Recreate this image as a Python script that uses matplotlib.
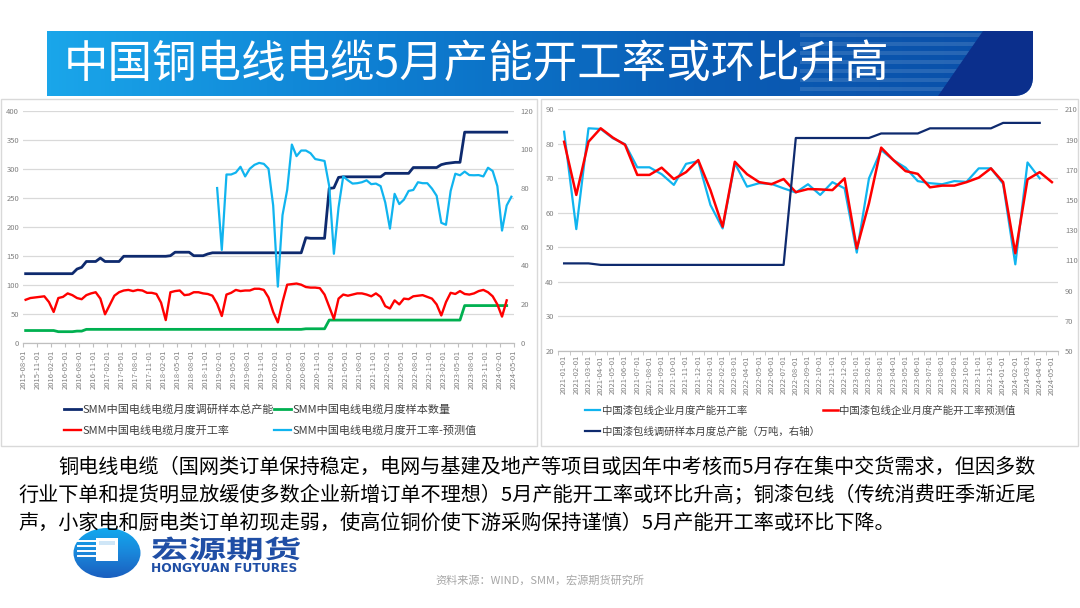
import numpy as np
import pandas as pd
import matplotlib
matplotlib.use('Agg')
import matplotlib.pyplot as plt
from matplotlib.patches import Rectangle, Polygon, Ellipse, PathPatch
from matplotlib.path import Path
from matplotlib.colors import LinearSegmentedColormap
from matplotlib.textpath import TextPath
from matplotlib.font_manager import FontProperties
from matplotlib.transforms import Affine2D
from matplotlib.lines import Line2D

plt.rcParams['font.family'] = ['Noto Sans CJK SC', 'DejaVu Sans']

# ---- 电线电缆 (monthly, 2015-08 onwards) ----
cable_ticks = pd.date_range('2015-08-01', '2024-05-01', freq='3MS').strftime('%Y-%m-%d')
cable_capacity = [119, 119, 119, 119, 119, 119, 119, 119, 119, 119,
                  119, 127, 130, 140, 140, 140, 146, 140, 140, 140,
                  140, 149, 149, 149, 149, 149, 149, 149, 149, 149,
                  149, 150, 156, 156, 156, 156, 150, 150, 150, 153,
                  155, 155, 155, 155, 155, 155, 155, 155, 155, 155,
                  155, 155, 155, 155, 155, 155, 155, 155, 155, 155,
                  181, 180, 180, 180, 180, 266, 267, 285, 286, 286,
                  286, 286, 286, 286, 286, 286, 286, 292, 292, 292,
                  292, 292, 292, 302, 302, 302, 302, 302, 302, 307,
                  309, 310, 311, 311, 363, 363, 363, 363, 363, 363,
                  363, 363, 363, 363]
cable_samples = [21, 21, 21, 21, 21, 21, 21, 19, 19, 19,
                 19, 20, 20, 23, 23, 23, 23, 23, 23, 23,
                 23, 23, 23, 23, 23, 23, 23, 23, 23, 23,
                 23, 23, 23, 23, 23, 23, 23, 23, 23, 23,
                 23, 23, 23, 23, 23, 23, 23, 23, 23, 23,
                 23, 23, 23, 23, 23, 23, 23, 23, 23, 23,
                 24, 24, 24, 24, 24, 39, 39, 39, 39, 39,
                 39, 39, 39, 39, 39, 39, 39, 39, 39, 39,
                 39, 39, 39, 39, 39, 39, 39, 39, 39, 39,
                 39, 39, 39, 39, 64, 64, 64, 64, 64, 64,
                 64, 64, 64, 64]
cable_rate = [74, 77, 78, 79, 80, 70, 53, 77, 79, 85,
              82, 77, 75, 82, 85, 87, 76, 49, 65, 81,
              87, 90, 91, 89, 91, 90, 86, 86, 84, 69,
              39, 87, 89, 90, 82, 83, 87, 87, 85, 84,
              81, 67, 46, 83, 86, 91, 89, 90, 90, 93,
              93, 91, 78, 53, 35, 70, 100, 101, 102, 100,
              96, 95, 95, 94, 83, 62, 41, 76, 83, 81,
              83, 85, 85, 83, 80, 85, 79, 63, 59, 73,
              66, 76, 75, 80, 81, 82, 79, 76, 66, 47,
              70, 86, 84, 89, 84, 83, 85, 89, 91, 87,
              80, 66, 45, 73]
cable_rate_fcst = [np.nan] * 41 + [
              80, 48, 87, 87, 88, 91, 86, 90, 92, 93,
              92.5, 90, 71, 29, 66, 79, 102.5, 96.5, 99.4, 99.4,
              98, 95, 94.5, 94, 81, 46, 70, 86, 84, 82.3,
              82.5, 83, 84, 82, 82.3, 81, 72.5, 59, 77, 71.7,
              74, 78.5, 79, 83, 82.5, 82.5, 79.7, 76, 62, 61,
              78.5, 87.4, 86.6, 88.5, 86.7, 86.6, 86.7, 86, 90.5, 88.8,
              81, 58, 71, 75.5]

# ---- 漆包线 (monthly, 2021-01 onwards) ----
enamel_months = pd.date_range('2021-01-01', '2024-05-01', freq='MS').strftime('%Y-%m-%d')
enamel_rate = [83.5, 55.3, 84.5, 84.3, 81.6, 79.9, 73.2, 73.2, 71.2, 68.1,
               74.2, 75, 62.3, 55.5, 74.4, 67.6, 68.6, 68.4, 67.1, 65.9,
               68.3, 65.2, 68.9, 67.1, 48.5, 70, 78.2, 75.3, 73.1, 69.2,
               68.6, 68.3, 69.2, 69, 72.9, 72.9, 68.4, 45.1, 74.6, 70]
enamel_rate_fcst = [80.6, 65.2, 80.6, 84.5, 81.8, 79.7, 71, 71, 73.1, 69.8,
                    71.8, 75.3, 66.6, 56, 74.8, 71.2, 68.9, 68.3, 69.8, 66,
                    66.9, 66.8, 66.6, 70, 49.7, 62.8, 78.9, 75.3, 72.1, 71.3,
                    67.4, 67.9, 67.9, 68.9, 70.2, 72.9, 68.9, 48.3, 69.7, 71.8,
                    68.9]
enamel_capacity = [108, 108, 108, 107, 107, 107, 107, 107, 107, 107,
                   107, 107, 107, 107, 107, 107, 107, 107, 107, 191,
                   191, 191, 191, 191, 191, 191, 194, 194, 194, 194,
                   197.4, 197.4, 197.4, 197.4, 197.4, 197.4, 201, 201, 201, 201]

title = '中国铜电线电缆5月产能开工率或环比升高'
body = ['铜电线电缆（国网类订单保持稳定，电网与基建及地产等项目或因年中考核而5月存在集中交货需求，但因多数',
        '行业下单和提货明显放缓使多数企业新增订单不理想）5月产能开工率或环比升高；铜漆包线（传统消费旺季渐近尾',
        '声，小家电和厨电类订单初现走弱，使高位铜价使下游采购保持谨慎）5月产能开工率或环比下降。']
source = '资料来源：WIND，SMM，宏源期货研究所'

NAVY = '#0e2a6e'
RED = '#ff0000'
SKY = '#10b4ef'
GREEN = '#00b050'
GRID = '#d9d9d9'
TICK = '#808080'

W, H = 1080, 608
fig = plt.figure(figsize=(W / 100, H / 100), dpi=100)

# page layer in pixel units
bg = fig.add_axes([0, 0, 1, 1])
bg.set_xlim(0, W)
bg.set_ylim(H, 0)
bg.axis('off')

# title banner with rounded lower-right corner
bx0, bx1, by0, by1, r = 47, 1033, 31, 96, 20
banner_path = Path([(bx0, by0), (bx1, by0), (bx1, by1 - r), (bx1, by1), (bx1 - r, by1), (bx0, by1), (bx0, by0)],
                   [Path.MOVETO, Path.LINETO, Path.LINETO, Path.CURVE3, Path.CURVE3, Path.LINETO, Path.CLOSEPOLY])
banner = PathPatch(banner_path, fc='none', ec='none')
bg.add_patch(banner)
banner_cmap = LinearSegmentedColormap.from_list('banner', ['#1aa6ea', '#0e7fd2', '#0a5db5', '#0a4ea8'])
im = bg.imshow(np.linspace(0, 1, 256).reshape(1, -1), cmap=banner_cmap, extent=(bx0, bx1, by1, by0),
               aspect='auto', zorder=1)
im.set_clip_path(banner)
for y in range(33, 96, 9):
    s = bg.add_patch(Rectangle((800, y), 200, 4, fc='white', alpha=0.12, ec='none', zorder=2))
    s.set_clip_path(banner)
dark = bg.add_patch(Polygon([(983, by0), (1040, by0), (1040, by1), (938, by1)], fc='#0b2f8c', ec='none', zorder=3))
dark.set_clip_path(banner)
bg.text(64, 64, title, color='white', fontsize=32, va='center', ha='left', zorder=4)

# chart panels
bg.add_patch(Rectangle((1, 99), 536, 347, fill=False, ec='#d9d9d9', lw=1))
bg.add_patch(Rectangle((541, 99), 537, 347, fill=False, ec='#d9d9d9', lw=1))

# body text
bg.text(58, 467, body[0], fontsize=14.5, va='center', ha='left')
bg.text(18, 495, body[1], fontsize=14.5, va='center', ha='left')
bg.text(18, 523, body[2], fontsize=14.5, va='center', ha='left')

# logo
logo = Ellipse((107, 553), 67, 50, fc='none', ec='none')
bg.add_patch(logo)
logo_cmap = LinearSegmentedColormap.from_list('logo', ['#12a8ee', '#1a86da', '#1a5fbf'])
li = bg.imshow(np.linspace(0, 1, 64).reshape(-1, 1), cmap=logo_cmap, extent=(73, 141, 578, 528),
               aspect='auto', zorder=2)
li.set_clip_path(logo)
bg.add_patch(Rectangle((96, 538), 22, 23, fc='white', ec='none', zorder=3))
bg.add_patch(Rectangle((99, 541), 16, 4, fc='#cfe6f7', ec='none', zorder=3))
for y in [541, 546, 551, 556]:
    bg.add_line(Line2D([78, 96], [y, y], color='white', lw=1.4, zorder=3))
tp = TextPath((0, 0), '宏源期货', size=25, prop=FontProperties(family='Noto Sans CJK SC', weight='bold'))
ext = tp.get_extents()
sx = 148 / ext.width
tp = Affine2D().translate(-ext.x0, 0).scale(sx, -1).translate(152, 558).transform_path(tp)
bg.add_patch(PathPatch(tp, fc='#1f4ea5', ec='none', zorder=3))
bg.text(151, 568, 'HONGYUAN FUTURES', fontsize=8.8, fontweight='bold', family='DejaVu Sans',
        color='#1f4ea5', va='center', ha='left')
bg.text(540, 580, source, fontsize=8, color='#a6a6a6', va='center', ha='center')


def style_axes(ax, ax2):
    for a in (ax, ax2):
        for side in ['top', 'left', 'right']:
            a.spines[side].set_visible(False)
        a.spines['bottom'].set_color('#bfbfbf')
    ax.tick_params(axis='y', length=0, labelsize=5.5, labelcolor=TICK, pad=3)
    ax2.tick_params(axis='y', length=0, labelsize=5.5, labelcolor=TICK, pad=5)
    ax.grid(axis='y', color=GRID, lw=0.9)
    ax.set_axisbelow(True)


# ---- left chart ----
axL = fig.add_axes([23.3 / W, 1 - 342.7 / H, 490.4 / W, 232 / H])
axL2 = axL.twinx()
x_cable = np.arange(len(cable_rate_fcst)) + 0.5
n = len(cable_capacity)
l1, = axL.plot(x_cable[:n], cable_capacity, color=NAVY, lw=2)
l2, = axL.plot(x_cable[:n], cable_samples, color=GREEN, lw=2)
l3, = axL.plot(x_cable[:n], cable_rate, color=RED, lw=1.7)
l4, = axL2.plot(x_cable, cable_rate_fcst, color=SKY, lw=1.6)
axL.set_xlim(0, 105)
axL.set_ylim(0, 400)
axL.set_yticks(range(0, 401, 50))
axL2.set_ylim(0, 120)
axL2.set_yticks(range(0, 121, 20))
axL.set_xticks(np.arange(0, 106, 3))
axL.set_xticklabels(cable_ticks, rotation=90, fontsize=5.5, color=TICK)
axL.tick_params(axis='x', length=3, color='#bfbfbf', pad=2)
style_axes(axL, axL2)
axL.legend([l1, l3, l2, l4],
           ['SMM中国电线电缆月度调研样本总产能', 'SMM中国电线电缆月度开工率',
            'SMM中国电线电缆月度样本数量', 'SMM中国电线电缆月度开工率-预测值'],
           loc='upper left', bbox_to_anchor=(64 / W, 1 - 404 / H), bbox_transform=fig.transFigure,
           ncol=2, frameon=False, fontsize=8, handlelength=1.5, handletextpad=0.15,
           columnspacing=0.05, borderpad=0, borderaxespad=0, labelspacing=0.95, labelcolor='#404040')

# ---- right chart ----
axR = fig.add_axes([558 / W, 1 - 351 / H, 500 / W, 241.7 / H])
axR2 = axR.twinx()
x_en = np.arange(len(enamel_months))
r1, = axR.plot(x_en[:len(enamel_rate)], enamel_rate, color=SKY, lw=1.6)
r2, = axR.plot(x_en, enamel_rate_fcst, color=RED, lw=1.8)
r3, = axR2.plot(x_en[:len(enamel_capacity)], enamel_capacity, color=NAVY, lw=1.6)
axR.set_xlim(-0.5, len(enamel_months) - 0.5)
axR.set_ylim(20, 90)
axR.set_yticks(range(20, 91, 10))
axR2.set_ylim(50, 210)
axR2.set_yticks(range(50, 211, 20))
axR.set_xticks(x_en)
axR.set_xticklabels(enamel_months, rotation=90, fontsize=5.5, color=TICK)
axR.set_xticks(np.arange(-0.5, len(enamel_months)), minor=True)
axR.tick_params(axis='x', which='major', length=0, pad=3)
axR.tick_params(axis='x', which='minor', length=3, color='#bfbfbf')
style_axes(axR, axR2)
axR.legend([r1, r3, r2],
           ['中国漆包线企业月度产能开工率', '中国漆包线调研样本月度总产能（万吨，右轴）', '中国漆包线企业月度产能开工率预测值'],
           loc='upper left', bbox_to_anchor=(585 / W, 1 - 406 / H), bbox_transform=fig.transFigure,
           ncol=2, frameon=False, fontsize=7.5, handlelength=1.45, handletextpad=0.15,
           columnspacing=0.3, borderpad=0, borderaxespad=0, labelspacing=1.0, labelcolor='#404040')

fig.savefig('out.png', dpi=100, facecolor='white')
